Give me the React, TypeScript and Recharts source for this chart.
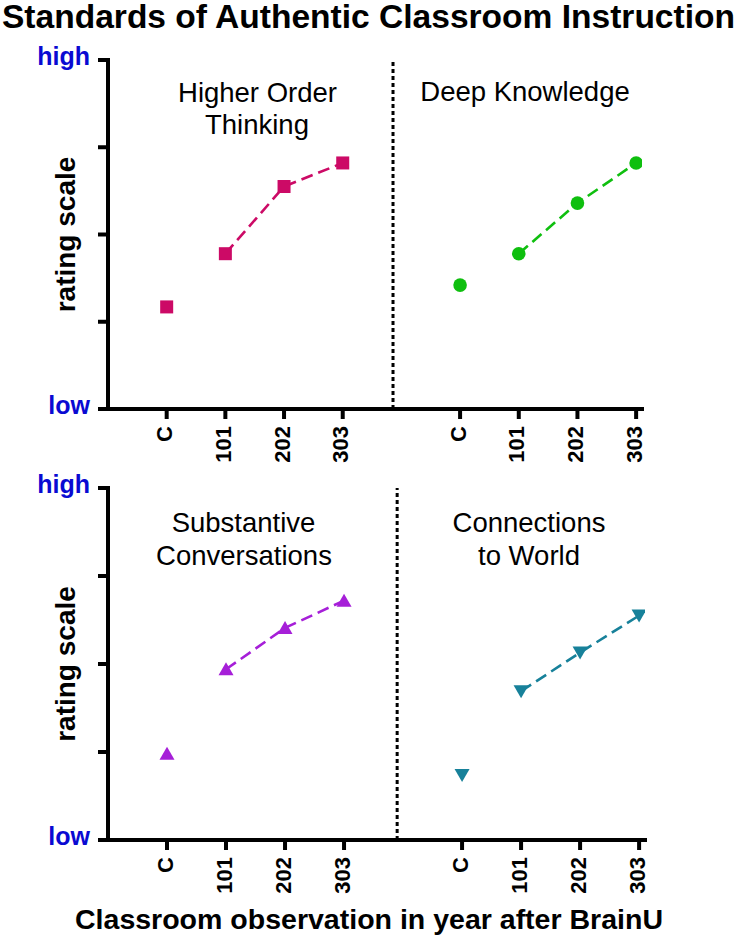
import React from "react";
import { LineChart, Line, XAxis, YAxis, ReferenceLine } from "recharts";

// ---------- data ----------
const categories = ["C", "101", "202", "303"];
const yTickLabels = ["low", "", "", "", "high"];
const yTicks = [0, 1, 2, 3, 4];

const higherOrderThinking = [1.17, 1.78, 2.55, 2.82];
const deepKnowledge = [1.42, 1.78, 2.36, 2.82];
const substantiveConversations = [0.98, 1.94, 2.41, 2.72];
const connectionsToWorld = [0.74, 1.69, 2.13, 2.55];

const titleText = "Standards of Authentic Classroom Instruction";
const xAxisTitle = "Classroom observation in year after BrainU";
const yAxisTitle = "rating scale";

// ---------- styles ----------
const FONT = "'Liberation Sans', Arial, Helvetica, sans-serif";
const BLUE = "#0a0ad2";
const C_HOT = "#cc0a66";
const C_DK = "#0fbf0f";
const C_SC = "#a61fd8";
const C_CW = "#17819a";

type Row = {
  x: number;
  label: string;
  leftCtrl: number | null;
  leftTrend: number | null;
  rightCtrl: number | null;
  rightTrend: number | null;
};

function buildRows(left: number[], right: number[]): Row[] {
  const rows: Omit<Row, "x">[] = [];
  categories.forEach((c, i) =>
    rows.push({
      label: c,
      leftCtrl: i === 0 ? left[i] : null,
      leftTrend: i === 0 ? null : left[i],
      rightCtrl: null,
      rightTrend: null,
    })
  );
  rows.push({ label: "", leftCtrl: null, leftTrend: null, rightCtrl: null, rightTrend: null });
  categories.forEach((c, i) =>
    rows.push({
      label: c,
      leftCtrl: null,
      leftTrend: null,
      rightCtrl: i === 0 ? right[i] : null,
      rightTrend: i === 0 ? null : right[i],
    })
  );
  return rows.map((r, i) => ({ ...r, x: i }));
}

type Shape = "square" | "circle" | "up" | "down";

const makeDot = (shape: Shape, color: string) => (props: any) => {
  const { cx, cy, value, index } = props;
  const key = `d-${shape}-${index}`;
  if (value == null || cx == null || cy == null || isNaN(cx) || isNaN(cy)) return <g key={key} />;
  if (shape === "square") {
    return <rect key={key} x={cx - 6.5} y={cy - 6.5} width={13} height={13} fill={color} />;
  }
  if (shape === "circle") {
    return <circle key={key} cx={cx} cy={cy} r={6.8} fill={color} />;
  }
  if (shape === "up") {
    return (
      <polygon
        key={key}
        points={`${cx},${cy - 7} ${cx - 7.5},${cy + 6} ${cx + 7.5},${cy + 6}`}
        fill={color}
      />
    );
  }
  return (
    <polygon
      key={key}
      points={`${cx - 7.5},${cy - 6} ${cx + 7.5},${cy - 6} ${cx},${cy + 7}`}
      fill={color}
    />
  );
};

const XTick = (rows: Row[]) => (props: any) => {
  const { x, y, payload } = props;
  const row = rows.find((r) => r.x === payload.value);
  const label = row ? row.label : "";
  return (
    <text
      x={x}
      y={y}
      transform={`rotate(-90 ${x} ${y})`}
      textAnchor="end"
      dominantBaseline="central"
      dy={-2}
      fontFamily={FONT}
      fontWeight="bold"
      fontSize={22}
      fill="#000"
    >
      {label}
    </text>
  );
};

const YTick = (props: any) => {
  const { x, y, payload } = props;
  const label = yTickLabels[payload.value] ?? "";
  return (
    <text
      x={x}
      y={y}
      dy={5}
      textAnchor="end"
      fontFamily={FONT}
      fontWeight="bold"
      fontSize={25}
      fill={BLUE}
    >
      {label}
    </text>
  );
};

type PanelProps = {
  top: number;
  height: number;
  marginTop: number;
  marginRight: number;
  xAxisHeight: number;
  divider: number;
  left: number[];
  right: number[];
  leftShape: Shape;
  rightShape: Shape;
  leftColor: string;
  rightColor: string;
};

function Panel(p: PanelProps) {
  const rows = buildRows(p.left, p.right);
  const xTicks = rows.filter((r) => r.label !== "").map((r) => r.x);
  const axisStyle = { stroke: "#000", strokeWidth: 4, strokeLinecap: "square" as const };
  const tickStyle = { stroke: "#000", strokeWidth: 4 };
  return (
    <div style={{ position: "absolute", left: 0, top: p.top }}>
      <LineChart
        width={738}
        height={p.height}
        data={rows}
        margin={{ top: p.marginTop, right: p.marginRight, bottom: 0, left: 0 }}
      >
        <XAxis
          dataKey="x"
          type="number"
          domain={[-1, 8.1]}
          ticks={xTicks}
          allowDataOverflow
          interval={0}
          height={p.xAxisHeight}
          axisLine={axisStyle}
          tickLine={tickStyle}
          tickSize={10}
          tickMargin={7}
          tick={XTick(rows)}
        />
        <YAxis
          type="number"
          domain={[0, 4]}
          ticks={yTicks}
          allowDataOverflow
          interval={0}
          width={108}
          axisLine={axisStyle}
          tickLine={tickStyle}
          tickSize={10}
          tickMargin={8}
          tick={YTick}
        />
        <ReferenceLine
          x={p.divider}
          stroke="#000"
          strokeWidth={3}
          strokeDasharray="4 3"
        />
        <Line
          dataKey="leftTrend"
          stroke={p.leftColor}
          strokeWidth={2.6}
          strokeDasharray="12 6"
          dot={makeDot(p.leftShape, p.leftColor)}
          activeDot={false}
          isAnimationActive={false}
        />
        <Line
          dataKey="leftCtrl"
          stroke="none"
          dot={makeDot(p.leftShape, p.leftColor)}
          activeDot={false}
          isAnimationActive={false}
        />
        <Line
          dataKey="rightTrend"
          stroke={p.rightColor}
          strokeWidth={2.6}
          strokeDasharray="12 6"
          dot={makeDot(p.rightShape, p.rightColor)}
          activeDot={false}
          isAnimationActive={false}
        />
        <Line
          dataKey="rightCtrl"
          stroke="none"
          dot={makeDot(p.rightShape, p.rightColor)}
          activeDot={false}
          isAnimationActive={false}
        />
      </LineChart>
    </div>
  );
}

export default function App() {
  const annot = { fontFamily: FONT, fontSize: 27.5, fill: "#000", textAnchor: "middle" as const };
  const yTitle = {
    fontFamily: FONT,
    fontSize: 28,
    fontWeight: "bold" as const,
    fill: "#000",
    textAnchor: "middle" as const,
    dominantBaseline: "central" as const,
  };
  return (
    <div
      style={{
        position: "absolute",
        left: 0,
        top: 0,
        width: 738,
        height: 938,
        background: "#fff",
        overflow: "hidden",
      }}
    >
      <Panel
        top={0}
        height={470}
        marginTop={60}
        marginRight={96}
        xAxisHeight={61}
        divider={3.857}
        left={higherOrderThinking}
        right={deepKnowledge}
        leftShape="square"
        rightShape="circle"
        leftColor={C_HOT}
        rightColor={C_DK}
      />
      <Panel
        top={470}
        height={468}
        marginTop={18}
        marginRight={93}
        xAxisHeight={98}
        divider={3.9}
        left={substantiveConversations}
        right={connectionsToWorld}
        leftShape="up"
        rightShape="down"
        leftColor={C_SC}
        rightColor={C_CW}
      />
      <svg
        width={738}
        height={938}
        style={{ position: "absolute", left: 0, top: 0, pointerEvents: "none" }}
      >
        <text
          x={2}
          y={28}
          fontFamily={FONT}
          fontWeight="bold"
          fontSize={32.5}
          textLength={733}
          lengthAdjust="spacingAndGlyphs"
          fill="#000"
        >
          {titleText}
        </text>
        <text {...yTitle} x={65} y={234.5} transform="rotate(-90 65 234.5)">
          {yAxisTitle}
        </text>
        <text {...yTitle} x={65} y={664} transform="rotate(-90 65 664)">
          {yAxisTitle}
        </text>
        <text {...annot} x={257.5} y={102}>Higher Order</text>
        <text {...annot} x={257} y={134}>Thinking</text>
        <text {...annot} x={525} y={101}>Deep Knowledge</text>
        <text {...annot} x={243.5} y={532}>Substantive</text>
        <text {...annot} x={244} y={565}>Conversations</text>
        <text {...annot} x={529} y={532}>Connections</text>
        <text {...annot} x={529} y={565}>to World</text>
        <text
          x={75}
          y={929}
          fontFamily={FONT}
          fontWeight="bold"
          fontSize={28}
          textLength={588}
          lengthAdjust="spacingAndGlyphs"
          fill="#000"
        >
          {xAxisTitle}
        </text>
      </svg>
    </div>
  );
}
